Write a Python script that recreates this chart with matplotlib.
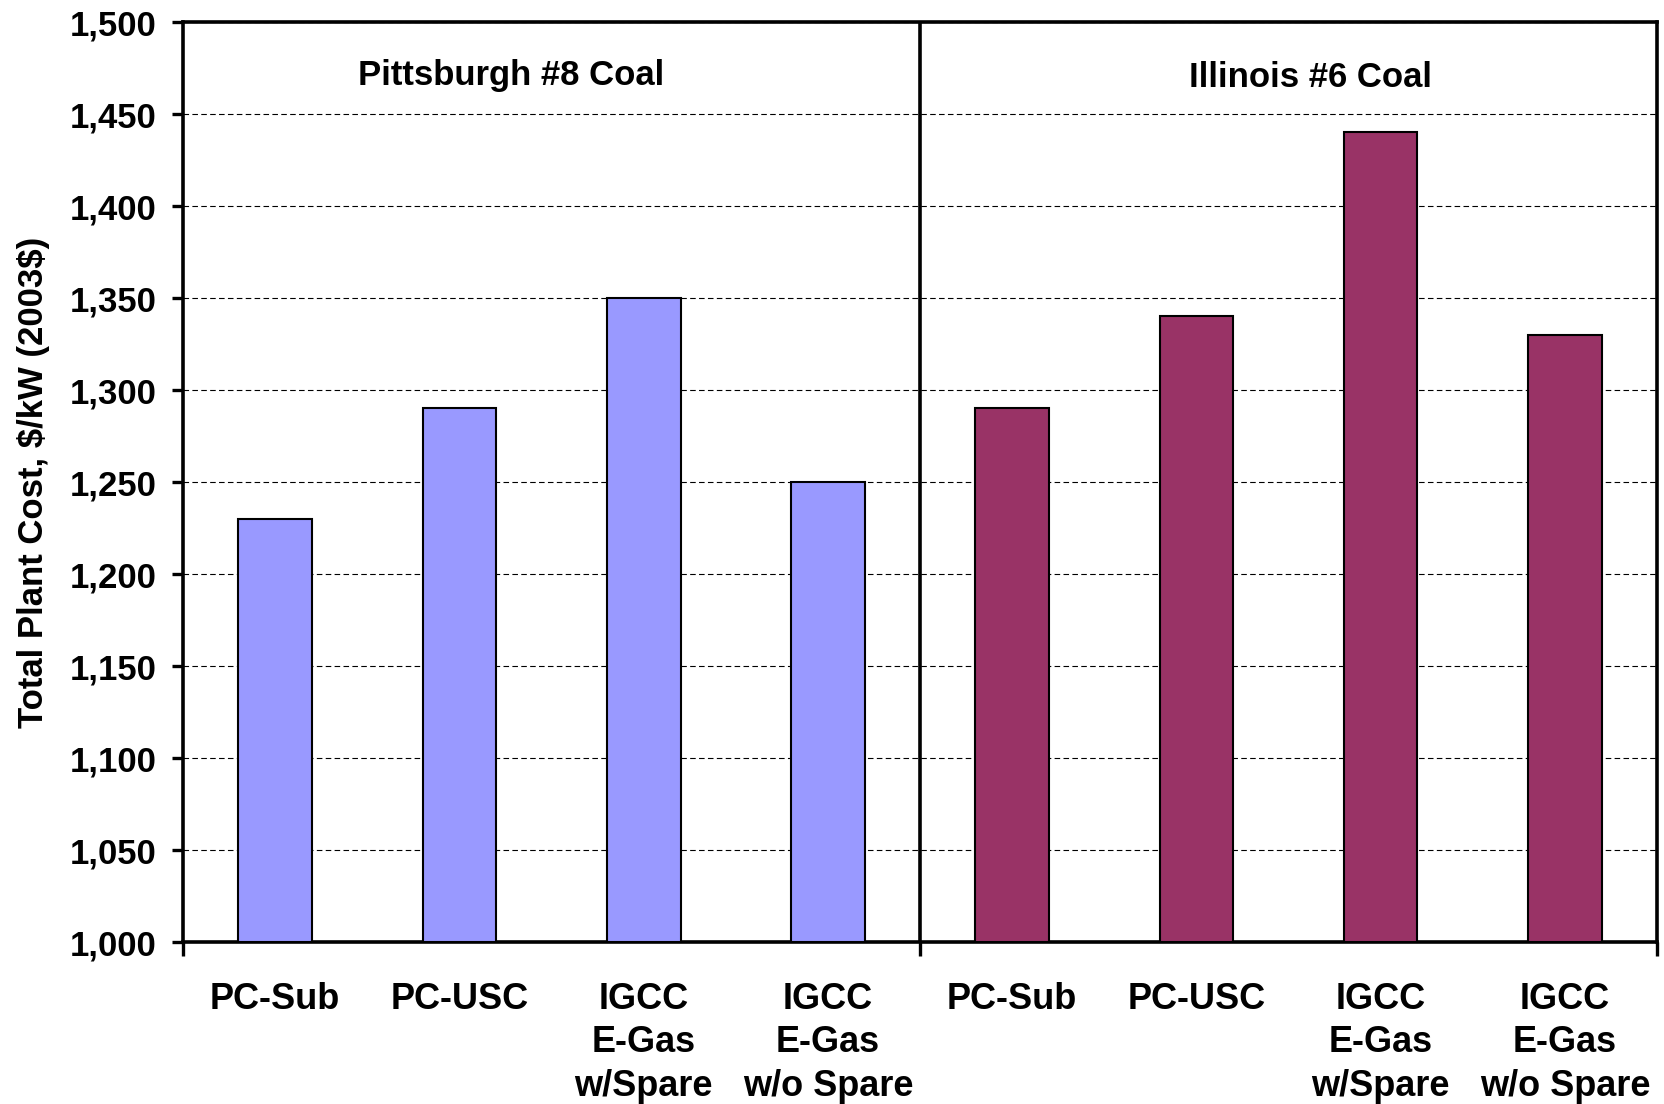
import matplotlib.pyplot as plt
import numpy as np

plt.rcParams['font.family'] = ['Liberation Sans', 'DejaVu Sans']
plt.rcParams['font.weight'] = 'bold'

# data
categories = ["PC-Sub", "PC-USC", "IGCC\nE-Gas\nw/Spare", "IGCC\nE-Gas\nw/o Spare",
              "PC-Sub", "PC-USC", "IGCC\nE-Gas\nw/Spare", "IGCC\nE-Gas\nw/o Spare"]
pittsburgh = [1230, 1290, 1350, 1250]
illinois = [1290, 1340, 1440, 1330]
groups = ["Pittsburgh #8 Coal", "Illinois #6 Coal"]
yticks = list(range(1000, 1501, 50))

fig = plt.figure(figsize=(16.64, 11.04), dpi=100)
ax = fig.add_axes([0.110, 0.1467, 0.8858, 0.8333])

x1 = np.arange(4) + 0.5
x2 = np.arange(4) + 4.5
ax.bar(x1, np.array(pittsburgh) - 1000, bottom=1000, width=0.4,
       color='#9999FF', edgecolor='black', linewidth=1.5, zorder=3)
ax.bar(x2, np.array(illinois) - 1000, bottom=1000, width=0.4,
       color='#993366', edgecolor='black', linewidth=1.5, zorder=3)

ax.set_xlim(0, 8)
ax.set_ylim(1000, 1500)
ax.set_yticks(yticks)
ax.set_yticklabels([f"{v:,}" for v in yticks], fontsize=25, fontweight='bold')
ax.yaxis.grid(True, linestyle=(0, (5, 3)), color='black', linewidth=0.8)
ax.set_axisbelow(True)

ax.set_xticks([0, 4, 8])
ax.set_xticklabels([])
ax.set_xticks(np.arange(8) + 0.5, minor=True)
ax.set_xticklabels(categories, minor=True, fontsize=26, fontweight='bold',
                   linespacing=1.3, va='top')
ax.tick_params(axis='x', which='major', direction='out', length=10, width=2.4)
ax.tick_params(axis='x', which='minor', length=0, pad=29)
ax.tick_params(axis='y', direction='out', length=8, width=2.4, pad=11)

for s in ax.spines.values():
    s.set_linewidth(2.6)
ax.axvline(4, color='black', linewidth=2.6, zorder=4)

ax.text(1.78, 1471, groups[0], ha='center', va='center', fontsize=25, fontweight='bold')
ax.text(6.12, 1470, groups[1], ha='center', va='center', fontsize=25, fontweight='bold')

ax.set_ylabel(r"Total Plant Cost, \$/kW (2003\$)", fontsize=25, fontweight='bold', labelpad=14)

fig.savefig("out.png", dpi=100)
